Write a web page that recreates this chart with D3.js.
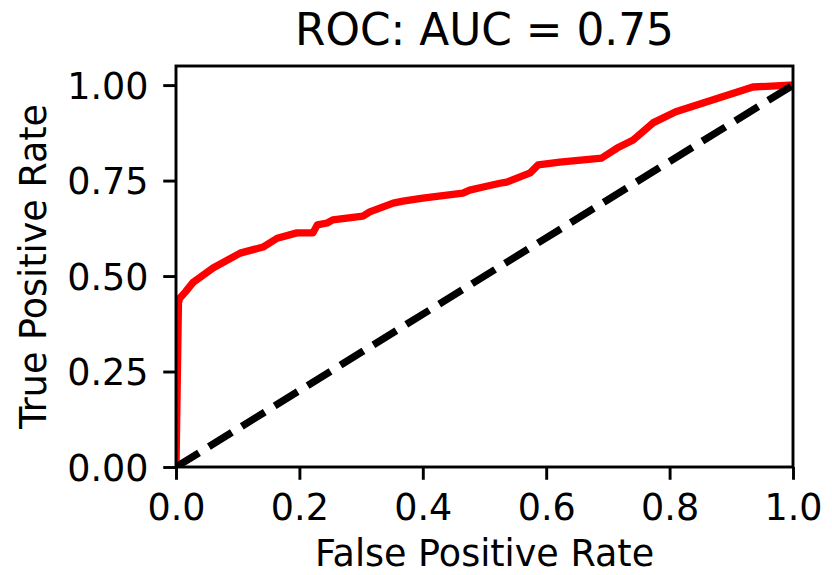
<!DOCTYPE html>
<html>
<head>
<meta charset="utf-8">
<script src="https://cdn.jsdelivr.net/npm/d3@7"></script>
<style>
    html, body { margin: 0; padding: 0; background: #fff; }
    #chart text { font-family: "DejaVu Sans", sans-serif; fill: #000; }
</style>
</head>
<body>
<div id="chart"></div>
<script>
// ROC curve values
const fpr = [0, 0.004, 0.006, 0.015, 0.028, 0.06, 0.104, 0.141, 0.164, 0.196, 0.222, 0.229, 0.245,
             0.254, 0.303, 0.314, 0.352, 0.368, 0.400, 0.465, 0.476, 0.498, 0.525, 0.536, 0.574,
             0.587, 0.622, 0.690, 0.715, 0.741, 0.773, 0.810, 0.935, 0.995, 1.0];
const tpr = [0, 0.43, 0.442, 0.458, 0.484, 0.521, 0.560, 0.576, 0.599, 0.613, 0.613, 0.634, 0.639,
             0.647, 0.657, 0.668, 0.691, 0.696, 0.704, 0.717, 0.725, 0.733, 0.743, 0.746, 0.770,
             0.791, 0.798, 0.809, 0.835, 0.856, 0.901, 0.930, 0.995, 1.0, 1.0];
const chanceLine = [[0, 0], [1, 1]];

const xTicks = [0, 0.2, 0.4, 0.6, 0.8, 1.0];
const yTicks = [0, 0.25, 0.5, 0.75, 1.0];

const titleText = "ROC: AUC = 0.75";
const xLabel = "False Positive Rate";
const yLabel = "True Positive Rate";


class RocChart {
    constructor(){
        this.pt = 3.65;  // px per point
        this.margin;
        this.width;
        this.height;
        this.svg;
        this.chartGroup;
        this.xScale;
        this.yScale;
    }

    init(){
        this.margin = {top: 66, right: 39, bottom: 108, left: 176};
        this.width = 832 - this.margin.left - this.margin.right;
        this.height = 575 - this.margin.top - this.margin.bottom;

        this.svg = d3.select("#chart").append("svg").attr("width", 832).attr("height", 575);
        this.chartGroup = this.svg.append("g").attr("transform", "translate(" + [this.margin.left, this.margin.top] + ")");

        this.svg.append("defs").append("clipPath").attr("id", "clip")
            .append("rect").attr("width", this.width).attr("height", this.height);

        this.xScale = d3.scaleLinear().domain([0, 1]).range([0, this.width]);
        this.yScale = d3.scaleLinear().domain([0, 1.05]).range([this.height, 0]);
    }

    draw(){
        const pt = this.pt;
        const plot = this.chartGroup.append("g").attr("clip-path", "url(#clip)");

        const line = d3.line().x(d => this.xScale(d[0])).y(d => this.yScale(d[1]));

        plot.append("path")
            .datum(d3.zip(fpr, tpr))
            .attr("d", line)
            .attr("fill", "none")
            .attr("stroke", "#ff0000")
            .attr("stroke-width", 2 * pt)
            .attr("stroke-linejoin", "round")
            .attr("stroke-linecap", "square");

        plot.append("path")
            .datum(chanceLine)
            .attr("d", line)
            .attr("fill", "none")
            .attr("stroke", "#000")
            .attr("stroke-width", 2 * pt)
            .attr("stroke-dasharray", [3.7 * 2 * pt, 1.6 * 2 * pt].join(","))
            .attr("stroke-linecap", "butt");

        // axes
        const xAxis = d3.axisBottom(this.xScale).tickValues(xTicks).tickFormat(d3.format(".1f"))
            .tickSize(3.5 * pt).tickPadding(3.5 * pt + 2);
        const yAxis = d3.axisLeft(this.yScale).tickValues(yTicks).tickFormat(d3.format(".2f"))
            .tickSize(3.5 * pt).tickPadding(3.5 * pt + 2);

        const gx = this.chartGroup.append("g").attr("transform", "translate(0," + this.height + ")").call(xAxis);
        const gy = this.chartGroup.append("g").call(yAxis);

        [gx, gy].forEach(g => {
            g.select(".domain").remove();
            g.selectAll(".tick line").attr("stroke", "#000").attr("stroke-width", 0.8 * pt);
            g.selectAll(".tick text").attr("font-size", 36.5).attr("fill", "#000");
        });
        gy.selectAll(".tick text").attr("dy", "0.36em");

        // frame
        this.chartGroup.append("rect")
            .attr("width", this.width).attr("height", this.height)
            .attr("fill", "none").attr("stroke", "#000").attr("stroke-width", 0.8 * pt);

        // texts
        this.svg.append("text")
            .attr("x", this.margin.left + this.width / 2).attr("y", 45)
            .attr("text-anchor", "middle").attr("font-size", 43.8)
            .text(titleText);

        this.svg.append("text")
            .attr("x", this.margin.left + this.width / 2).attr("y", 566)
            .attr("text-anchor", "middle").attr("font-size", 36.5)
            .text(xLabel);

        this.svg.append("text")
            .attr("transform", "translate(46," + (this.margin.top + this.height / 2) + ") rotate(-90)")
            .attr("text-anchor", "middle").attr("font-size", 36.5)
            .text(yLabel);
    }
}

const chart = new RocChart();
chart.init();
chart.draw();
</script>
</body>
</html>
